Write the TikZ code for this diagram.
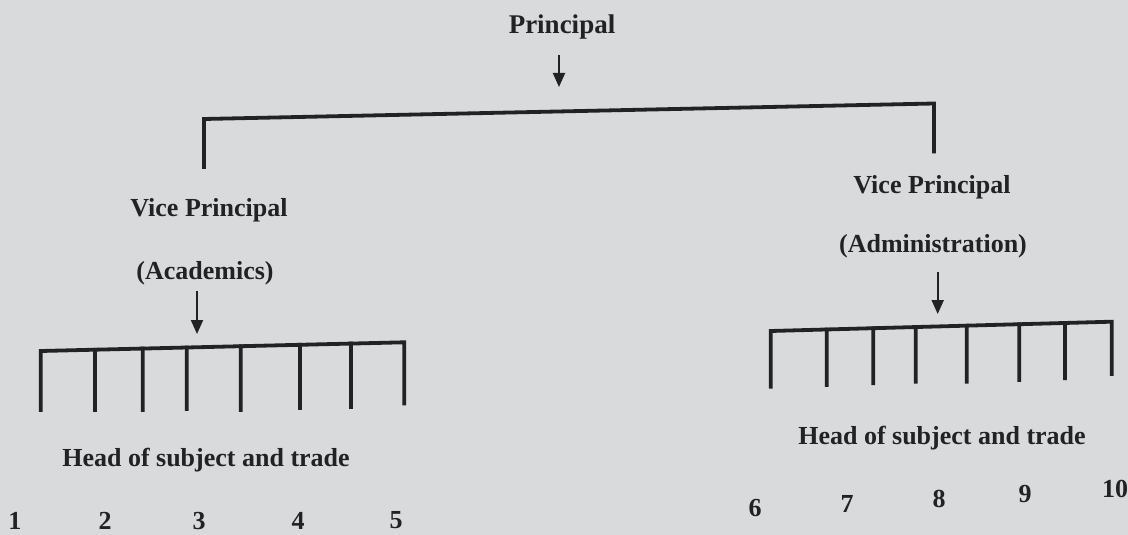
\documentclass[tikz,border=0pt]{standalone}
\usepackage{fontspec}
\setmainfont{Liberation Serif}
\usetikzlibrary{arrows.meta,calc}
\definecolor{paper}{RGB}{216,218,219}
\definecolor{ink}{RGB}{34,34,36}
\begin{document}
\begin{tikzpicture}[x=1pt,y=-1pt,
  lbl/.style={anchor=base,inner sep=0pt,text=ink,font=\fontsize{26}{30}\selectfont\bfseries},
  bar/.style={draw=ink,line width=3.8pt,line cap=rect,line join=miter},
  downarrow/.style={draw=ink,line width=2pt,-{Triangle[length=14pt,width=12pt]}}]
\fill[paper] (0,0) rectangle (1128,535);
\useasboundingbox (0,0) rectangle (1128,535);
% texts
\node[lbl,font=\fontsize{27}{30}\selectfont\bfseries] (principal) at (562,34) {Principal};
\node[lbl] (vpa) at (209,216.5) {Vice Principal};
\node[lbl] (vpa2) at (205,279) {(Academics)};
\node[lbl] (vpb) at (932,193) {Vice Principal};
\node[lbl] (vpb2) at (933,252) {(Administration)};
\node[lbl] (hoda) at (206,466) {Head of subject and trade};
\node[lbl] (hodb) at (942,444) {Head of subject and trade};
% numbers
\node[lbl] (n1) at (15,529) {1};
\node[lbl] (n2) at (105,529) {2};
\node[lbl] (n3) at (199,529) {3};
\node[lbl] (n4) at (298,529) {4};
\node[lbl] (n5) at (396,528) {5};
\node[lbl] (n6) at (755,516) {6};
\node[lbl] (n7) at (847,512) {7};
\node[lbl] (n8) at (939,507) {8};
\node[lbl] (n9) at (1025,502) {9};
\node[lbl] (n10) at (1115,497) {10};
% top bracket
\coordinate (pa1) at (559,55);
\coordinate (pa2) at (559,87);
\coordinate (tl) at (204,119);
\coordinate (tr) at (934,103.5);
\coordinate (tlb) at (204,167);
\coordinate (trb) at (934,151.5);
\draw[downarrow] (pa1) -- (pa2);
\draw[bar] (tlb) -- (tl) -- (tr) -- (trb);
% left comb
\coordinate (aa1) at (197,291);
\coordinate (aa2) at (197,334);
\draw[downarrow] (aa1) -- (aa2);
\coordinate (la) at (40.7,351);
\coordinate (lb) at (404.3,342.3);
\draw[bar] (40.7,410) -- (la) -- (lb) -- (404.3,403.5);
\foreach \x/\b in {95/410,142.7/410,186.7/409,240.7/410,300/408,351/407}{
  \draw[bar] ($(la)!{(\x-40.7)/363.6}!(lb)$) -- (\x,\b);
}
% right comb
\coordinate (ba1) at (937.7,272);
\coordinate (ba2) at (937.7,314);
\draw[downarrow] (ba1) -- (ba2);
\coordinate (ra) at (770.7,331);
\coordinate (rb) at (1111.7,321.7);
\draw[bar] (770.7,386.7) -- (ra) -- (rb) -- (1111.7,374);
\foreach \x/\b in {826.7/385,873.3/383.3,915.7/381.7,966.7/381.7,1019.3/380,1065/378.3}{
  \draw[bar] ($(ra)!{(\x-770.7)/341}!(rb)$) -- (\x,\b);
}
\end{tikzpicture}
\end{document}
